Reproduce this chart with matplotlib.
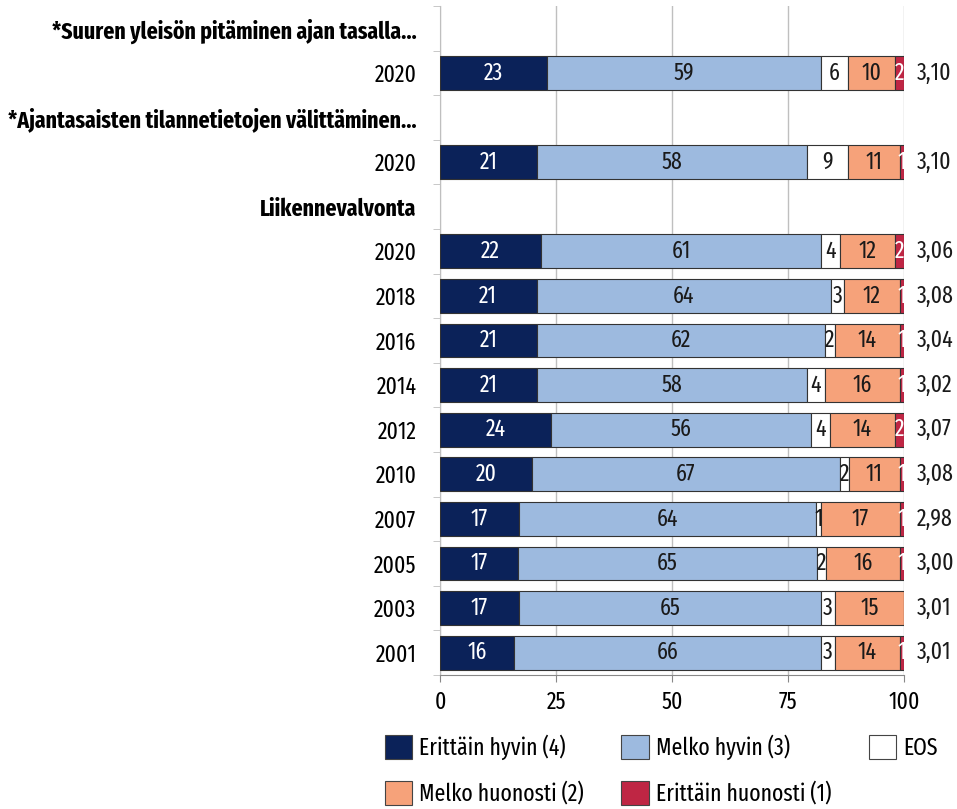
import numpy as np
import matplotlib.pyplot as plt
from matplotlib.patches import Patch

plt.rcParams['font.family'] = ['Fira Sans Extra Condensed', 'DejaVu Sans']

# --- data (percentages) ---
row_labels = ["*Suuren yleisön pitäminen ajan tasalla…", "2020",
              "*Ajantasaisten tilannetietojen välittäminen…", "2020",
              "Liikennevalvonta", "2020", "2018", "2016", "2014", "2012",
              "2010", "2007", "2005", "2003", "2001"]
is_header = [True, False, True, False, True] + [False] * 10

erittain_hyvin = [None, 23, None, 21, None, 22, 21, 21, 21, 24, 20, 17, 17, 17, 16]
melko_hyvin = [None, 59, None, 58, None, 61, 64, 62, 58, 56, 67, 64, 65, 65, 66]
eos = [None, 6, None, 9, None, 4, 3, 2, 4, 4, 2, 1, 2, 3, 3]
melko_huonosti = [None, 10, None, 11, None, 12, 12, 14, 16, 14, 11, 17, 16, 15, 14]
erittain_huonosti = [None, 2, None, 1, None, 2, 1, 1, 1, 2, 1, 1, 1, 0, 1]
means = [None, "3,10", None, "3,10", None, "3,06", "3,08", "3,04", "3,02", "3,07",
         "3,08", "2,98", "3,00", "3,01", "3,01"]

series_names = ["Erittäin hyvin (4)", "Melko hyvin (3)", "EOS",
                "Melko huonosti (2)", "Erittäin huonosti (1)"]
colors = ["#0b2259", "#9dbadf", "#ffffff", "#f6a27a", "#bf2644"]
text_colors = ["white", "#1a1a1a", "#1a1a1a", "#1a1a1a", "white"]

series = [erittain_hyvin, melko_hyvin, eos, melko_huonosti, erittain_huonosti]

fig = plt.figure(figsize=(9.57, 8.09), dpi=100)
ax = fig.add_axes([0.4598, 0.1656, 0.485, 0.827])

n = len(row_labels)
y = np.arange(n)
fs = 17

for i in range(n):
    if is_header[i]:
        continue
    vals = np.array([s[i] for s in series], dtype=float)
    scaled = vals / vals.sum() * 100  # rounded values do not always sum to 100
    left = 0.0
    for k in range(5):
        ax.barh(y[i], scaled[k], left=left, height=0.76, color=colors[k],
                edgecolor="#333333", linewidth=0.8, zorder=3)
        if vals[k] > 0:
            ax.text(left + scaled[k] / 2, y[i], f"{int(vals[k])}", ha="center",
                    va="center", fontsize=fs, color=text_colors[k], zorder=4,
                    clip_on=True)
        left += scaled[k]
    ax.text(102.8, y[i], means[i], ha="left", va="center", fontsize=fs,
            color="#1a1a1a", clip_on=False)

ax.set_xlim(0, 100)
ax.set_ylim(n - 0.5, -0.5)
ax.set_xticks([0, 25, 50, 75, 100])
ax.set_xticklabels(["0", "25", "50", "75", "100"], fontsize=fs)
ax.xaxis.grid(True, color="#bfbfbf", linewidth=1, zorder=0)

ax.set_yticks(y)
ax.set_yticklabels(row_labels, fontsize=fs)
for lbl, h in zip(ax.get_yticklabels(), is_header):
    if h:
        lbl.set_fontweight("bold")
ax.tick_params(axis="y", which="major", length=0, pad=17)
ax.set_yticks(np.arange(-0.5, n, 1), minor=True)
ax.tick_params(axis="y", which="minor", length=5, color="#bfbfbf")
ax.tick_params(axis="x", length=5, color="#888888", pad=6)

for side in ["top", "right"]:
    ax.spines[side].set_visible(False)
ax.spines["left"].set_color("#bfbfbf")
ax.spines["bottom"].set_color("#888888")

handles = [Patch(facecolor=c, edgecolor="#444444", linewidth=0.8) for c in colors]
order = [0, 3, 1, 4, 2]
fig.legend([handles[i] for i in order], [series_names[i] for i in order],
           loc="lower left", bbox_to_anchor=(0.402, 0.004), ncol=3, frameon=False,
           fontsize=fs, handlelength=1.15, handleheight=1.15, handletextpad=0.3,
           columnspacing=1.6, labelspacing=0.9, borderpad=0, borderaxespad=0)

fig.savefig("out.png", dpi=100)
